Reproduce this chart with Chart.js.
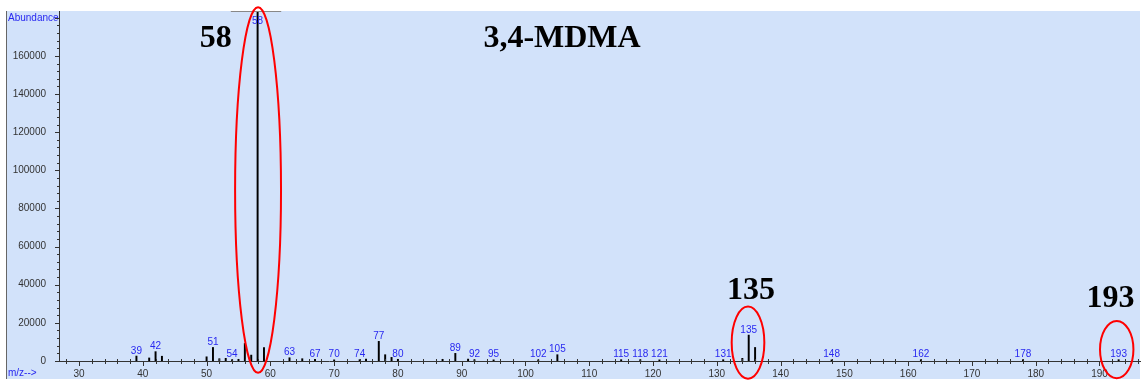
<!DOCTYPE html>
<html><head><meta charset="utf-8">
<script src="https://cdn.jsdelivr.net/npm/chart.js@4.4.0/dist/chart.umd.min.js"></script>
<style>html,body{margin:0;padding:0;background:#fff;overflow:hidden}#wrap{width:1144px;height:383px;position:relative}</style>
</head><body><div id="wrap"><canvas id="c" width="1144" height="383"></canvas></div>
<script>
// ---- data ----
const mzValues = [39, 41, 42, 43, 50, 51, 52, 53, 54, 55, 56, 57, 58, 59, 63, 65, 67, 70, 74, 75, 77, 78, 79, 80, 87, 89, 91, 92, 95, 102, 105, 115, 118, 121, 131, 134, 135, 136, 148, 162, 178, 193];
const abundanceValues = [2600, 1600, 4900, 2500, 2200, 7100, 1200, 1400, 700, 900, 9200, 3100, 250000, 7100, 1700, 1200, 900, 600, 700, 1000, 10300, 3300, 1900, 900, 900, 4000, 1000, 700, 600, 600, 3300, 700, 700, 600, 700, 1400, 13600, 7100, 600, 700, 700, 700];
const labeledPeaks = [39, 42, 51, 54, 58, 63, 67, 70, 74, 77, 80, 89, 92, 95, 102, 105, 115, 118, 121, 131, 135, 148, 162, 178, 193];
const xMin = 26.86, xMax = 196.35, xStep = 2, xLabelEvery = 10;
const yMin = 0, yMax = 183600, yMinorStep = 4000, yLabelStep = 20000, yLabelMax = 160000;
const yAxisTitle = 'Abundance';
const xAxisTitle = 'm/z-->';
const bigLabels = [
  {text: '58', mz: 51.45, value: 164500},
  {text: '3,4-MDMA', mz: 105.73, value: 164700},
  {text: '135', mz: 135.36, value: 32300},
  {text: '193', mz: 191.73, value: 28300}
];
const ellipseNotes = [
  {mz: 58.07, value: 89700, halfMz: 3.6, halfValue: 95900},
  {mz: 134.89, value: 9650, halfMz: 2.56, halfValue: 18940},
  {mz: 192.7, value: 6000, halfMz: 2.62, halfValue: 15020}
];
const clipMarker = {from: 53.8, to: 61.7};

const FONT = '"Liberation Sans", Arial, sans-serif';
const BLUE = 'rgb(40,40,240)';
const AXIS = '#333';

const decor = {
  id: 'decor',
  beforeDraw(chart) {
    const {ctx, chartArea: a} = chart;
    ctx.save();
    ctx.fillStyle = '#fff';
    ctx.fillRect(0, 0, chart.width, chart.height);
    ctx.fillStyle = '#D2E2FA';
    ctx.fillRect(7, a.top, a.right - 7, chart.height - 4 - a.top);
    ctx.strokeStyle = '#666';
    ctx.lineWidth = 1;
    ctx.beginPath(); ctx.moveTo(6.5, a.top); ctx.lineTo(6.5, chart.height - 4); ctx.stroke();
    ctx.restore();
  },
  afterDraw(chart) {
    const {ctx, chartArea: a, scales: {x, y}} = chart;
    ctx.save();
    // axis ticks
    ctx.strokeStyle = AXIS; ctx.lineWidth = 1;
    ctx.beginPath();
    x.ticks.forEach(t => {
      const px = Math.round(x.getPixelForValue(t.value)) + 0.5;
      if (t.value % xLabelEvery === 0) { ctx.moveTo(px, a.bottom); ctx.lineTo(px, a.bottom + 5); }
      else { ctx.moveTo(px, a.bottom - 2); ctx.lineTo(px, a.bottom + 3); }
    });
    for (let v = yMin; v <= yMax; v += yMinorStep) {
      const py = Math.round(y.getPixelForValue(v)) + 0.5;
      if (v % yLabelStep === 0) { ctx.moveTo(a.left - 4, py); ctx.lineTo(a.left, py); }
      else { ctx.moveTo(a.left - 2, py); ctx.lineTo(a.left + 1, py); }
    }
    ctx.stroke();
    // clip marker for off-scale peak
    ctx.strokeStyle = '#888';
    ctx.beginPath();
    ctx.moveTo(x.getPixelForValue(clipMarker.from), a.top + 0.5);
    ctx.lineTo(x.getPixelForValue(clipMarker.to), a.top + 0.5);
    ctx.stroke();
    // peak labels
    ctx.fillStyle = BLUE;
    ctx.font = '10px ' + FONT;
    ctx.textAlign = 'center';
    ctx.textBaseline = 'alphabetic';
    labeledPeaks.forEach(m => {
      const i = mzValues.indexOf(m);
      const v = abundanceValues[i];
      const px = x.getPixelForValue(m);
      let py = y.getPixelForValue(Math.min(v, yMax)) - 2.5;
      if (v > yMax) py = a.top + 13;
      ctx.fillText(String(m), px, py);
    });
    // axis titles
    ctx.textAlign = 'left';
    ctx.fillText(yAxisTitle, 8, a.top + 10);
    ctx.fillText(xAxisTitle, 8, chart.height - 7);
    // big labels
    ctx.fillStyle = '#000';
    ctx.font = 'bold 32px "Liberation Serif", "Times New Roman", serif';
    ctx.textAlign = 'center';
    bigLabels.forEach(b => {
      ctx.fillText(b.text, x.getPixelForValue(b.mz), y.getPixelForValue(b.value));
    });
    // ellipses
    ctx.strokeStyle = '#F00';
    ctx.lineWidth = 2;
    ellipseNotes.forEach(e => {
      const cx = x.getPixelForValue(e.mz), cy = y.getPixelForValue(e.value);
      const rx = Math.abs(x.getPixelForValue(e.mz + e.halfMz) - cx);
      const ry = Math.abs(y.getPixelForValue(e.value + e.halfValue) - cy);
      ctx.beginPath(); ctx.ellipse(cx, cy, rx, ry, 0, 0, Math.PI * 2); ctx.stroke();
    });
    ctx.restore();
  }
};

new Chart(document.getElementById('c'), {
  type: 'bar',
  data: {
    datasets: [{
      data: mzValues.map((m, i) => ({x: m, y: abundanceValues[i]})),
      backgroundColor: '#000',
      barThickness: 1.3,
      grouped: false
    }]
  },
  options: {
    responsive: false,
    animation: false,
    devicePixelRatio: 1,
    layout: {padding: {left: 0, top: 9, right: 4, bottom: 0}},
    plugins: {legend: {display: false}, tooltip: {enabled: false}},
    scales: {
      x: {
        type: 'linear', min: xMin, max: xMax, offset: false,
        grid: {display: false, offset: false},
        border: {display: true, color: AXIS, width: 1},
        ticks: {
          autoSkip: false, maxRotation: 0,
          padding: -1, color: AXIS, font: {family: FONT, size: 10},
          callback: v => (v % xLabelEvery === 0 ? String(v) : '')
        },
        afterBuildTicks: s => {
          const t = [];
          for (let v = Math.ceil(xMin / xStep) * xStep; v <= xMax; v += xStep) t.push({value: v});
          s.ticks = t;
        },
        afterFit: s => { s.height = 22; }
      },
      y: {
        min: yMin, max: yMax,
        grid: {display: false},
        border: {display: true, color: AXIS, width: 1},
        ticks: {
          autoSkip: false,
          padding: 5, color: AXIS, font: {family: FONT, size: 10},
          callback: v => String(v)
        },
        afterBuildTicks: s => {
          const t = [];
          for (let v = yMin; v <= yLabelMax; v += yLabelStep) t.push({value: v});
          s.ticks = t;
        },
        afterFit: s => { s.width = 59; }
      }
    }
  },
  plugins: [decor]
});
</script></body></html>
